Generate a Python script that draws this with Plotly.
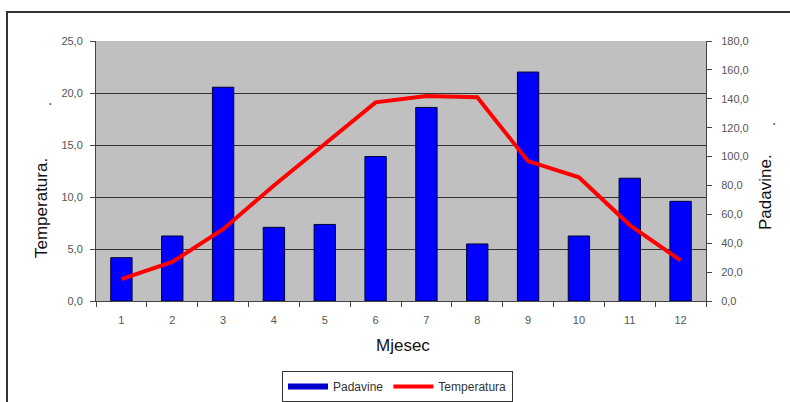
import plotly.graph_objects as go

# Monthly climate data
months = ["1", "2", "3", "4", "5", "6", "7", "8", "9", "10", "11", "12"]
padavine = [30, 45, 148, 51, 53, 100, 134, 39.5, 158.5, 45, 85, 69]          # mm
temperatura = [2.1, 3.75, 6.9, 11.1, 15.1, 19.1, 19.7, 19.6, 13.45, 11.9, 7.3, 3.9]  # °C

temp_ticks = [0, 5, 10, 15, 20, 25]
rain_ticks = [0, 20, 40, 60, 80, 100, 120, 140, 160, 180]

W, H = 790, 402
ML, MR, MT, MB = 96, 84, 41, 101
PW, PH = W - ML - MR, H - MT - MB


def px(xp):
    return (xp - ML) / PW


def py(yp):
    return (H - MB - yp) / PH


FONT = "Liberation Sans, Arial, sans-serif"
TICK_COLOR = "#555555"


def label(text, x, y, size=17, angle=0):
    return dict(text=text, x=px(x), y=py(y), xref="paper", yref="paper",
                xanchor="center", yanchor="middle", showarrow=False,
                textangle=angle, font=dict(size=size, color="#111111", family=FONT))


fig = go.Figure()

# precipitation bars on the primary (right-hand) axis so the line sits on top
fig.add_trace(go.Bar(
    x=months, y=padavine, name="Padavine", yaxis="y",
    marker=dict(color="#0000FF", line=dict(color="#000033", width=1)),
    showlegend=False,
))
fig.add_trace(go.Scatter(
    x=months, y=temperatura, name="Temperatura", yaxis="y2",
    mode="lines", line=dict(color="#FF0000", width=4),
    showlegend=False,
))
# legend entries drawn as thick line swatches
fig.add_trace(go.Scatter(
    x=[None], y=[None], name="Padavine", mode="lines",
    line=dict(color="#0000CC", width=6),
))
fig.add_trace(go.Scatter(
    x=[None], y=[None], name="Temperatura", mode="lines",
    line=dict(color="#FF0000", width=4),
))

fig.update_layout(
    width=W, height=H,
    margin=dict(l=ML, r=MR, t=MT, b=MB, pad=0, autoexpand=False),
    paper_bgcolor="white",
    plot_bgcolor="#C0C0C0",
    separators=", ",
    font=dict(family=FONT, size=11, color=TICK_COLOR),
    bargap=0.58,
    xaxis=dict(
        type="category", tickson="boundaries", ticks="outside", ticklen=5,
        tickcolor="#444444", showline=True, linecolor="#444444", linewidth=1,
        showgrid=False, tickfont=dict(size=11, color=TICK_COLOR),
        ticklabelstandoff=9,
        range=[-0.5, 11.5],
    ),
    yaxis=dict(
        range=[0, 180], tickvals=rain_ticks, tickformat=".1f",
        side="right",
        ticks="outside", ticklen=5, tickcolor="#444444",
        showline=True, linecolor="#444444", linewidth=1,
        showgrid=False, zeroline=False, ticklabelstandoff=7,
        tickfont=dict(size=11, color=TICK_COLOR),
    ),
    yaxis2=dict(
        range=[0, 25], tickvals=temp_ticks, tickformat=".1f",
        overlaying="y", side="left",
        ticks="outside", ticklen=5, tickcolor="#444444",
        showline=True, linecolor="#444444", linewidth=1,
        showgrid=True, gridcolor="#333333", gridwidth=1,
        zeroline=False, ticklabelstandoff=5,
        tickfont=dict(size=11, color=TICK_COLOR),
        layer="below traces",
    ),
    legend=dict(
        orientation="h", x=px(282), y=py(371), xanchor="left", yanchor="top",
        bordercolor="#333333", borderwidth=1, bgcolor="white",
        font=dict(size=12, color="#333333", family=FONT),
        itemwidth=40, tracegroupgap=0,
    ),
    shapes=[
        # outer chart frame
        dict(type="rect", xref="paper", yref="paper",
             x0=px(7), x1=px(800), y0=py(412), y1=py(12),
             line=dict(color="#333333", width=2), fillcolor="rgba(0,0,0,0)",
             layer="below"),
    ],
    annotations=[
        label("Mjesec", 403, 345),
        label("Temperatura.", 42, 208, angle=-90),
        label(".", 46, 104, size=14, angle=-90),
        label("Padavine.", 766, 192, angle=-90),
        label(".", 770, 124, size=14, angle=-90),
    ],
)

fig.write_html("out.html")
